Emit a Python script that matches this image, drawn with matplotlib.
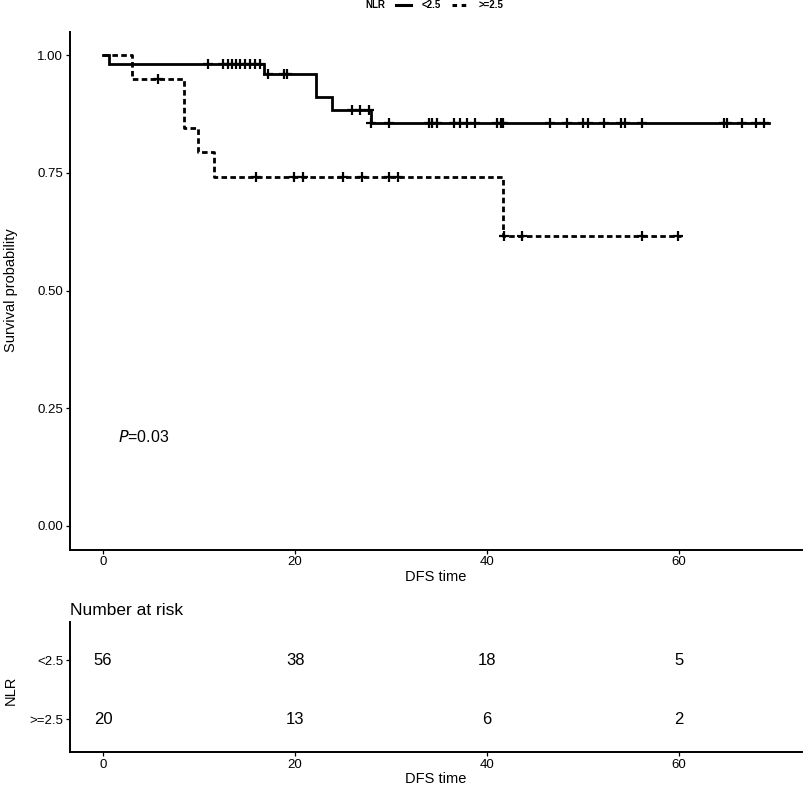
import numpy as np
import matplotlib
matplotlib.use("Agg")
import matplotlib.pyplot as plt
from matplotlib.lines import Line2D

plt.rcParams['font.family'] = ['Liberation Sans', 'DejaVu Sans']

# ---------------- data ----------------
groups = ["<2.5", ">=2.5"]

low_times = [0, 0.6, 16.8, 22.2, 23.8, 27.9]
low_surv = [1.0, 0.982, 0.961, 0.911, 0.884, 0.857]
low_end = 69.4
low_censor = [10.9, 12.5, 13.0, 13.4, 13.8, 14.3, 14.8, 15.3, 15.8, 16.3,
              17.2, 18.8, 19.2, 25.9, 26.8, 27.7, 27.95, 29.8, 33.9, 34.3,
              34.8, 36.5, 37.2, 37.9, 38.7, 41.0, 41.4, 41.7, 46.6, 48.3,
              50.0, 50.5, 52.2, 53.9, 54.4, 56.1, 64.7, 65.0, 66.5, 68.0, 68.8]

high_times = [0, 3.0, 8.4, 9.9, 11.6, 41.7]
high_surv = [1.0, 0.95, 0.846, 0.794, 0.742, 0.617]
high_end = 60.2
high_censor = [5.7, 15.9, 19.9, 20.8, 25.0, 27.0, 29.8, 30.7, 41.8, 43.6,
               56.1, 59.9]

risk_times = [0, 20, 40, 60]
risk_low = [56, 38, 18, 5]
risk_high = [20, 13, 6, 2]

p_text = "0.03"

# ---------------- figure ----------------
W, H = 808, 792
fig = plt.figure(figsize=(W / 100, H / 100), dpi=100)

def px_axes(l, r, t, b):
    return fig.add_axes([l / W, 1 - b / H, (r - l) / W, (b - t) / H])

def fx(x):
    return x / W

def fy(y):
    return 1 - y / H

ax = px_axes(70, 802, 31.7, 549.5)
axr = px_axes(70, 802, 621.7, 751.7)

XLIM = (-3.45, 72.8)
lw = 2.0
dash = (0, (2.0, 1.2))

def step_data(times, surv, end):
    xs = list(times) + [end]
    ys = list(surv) + [surv[-1]]
    return xs, ys

def surv_at(times, surv, t):
    idx = np.searchsorted(np.asarray(times), t, side="right") - 1
    return np.asarray(surv)[idx]

for times, surv, end, cens, ls in [
    (low_times, low_surv, low_end, low_censor, "-"),
    (high_times, high_surv, high_end, high_censor, dash),
]:
    xs, ys = step_data(times, surv, end)
    ax.step(xs, ys, where="post", color="black", lw=lw, linestyle=ls,
            solid_joinstyle="miter", dash_capstyle="butt")
    cy = surv_at(times, surv, np.asarray(cens))
    ax.plot(cens, cy, linestyle="none", marker="+", ms=7, mew=1.6,
            color="black")

ax.set_xlim(*XLIM)
ax.set_ylim(-0.05, 1.05)
ax.set_xticks([0, 20, 40, 60])
ax.set_yticks([0, 0.25, 0.5, 0.75, 1.0])
ax.set_yticklabels(["0.00", "0.25", "0.50", "0.75", "1.00"])
ax.set_xlabel("DFS time", fontsize=10.5, labelpad=1)

ax.text(1.5, 0.19, r"$\it{P}$" + "=" + p_text, fontsize=11.5, va="center",
        ha="left")

for a in (ax, axr):
    for s in ("top", "right"):
        a.spines[s].set_visible(False)
    for s in ("left", "bottom"):
        a.spines[s].set_linewidth(1.4)
    a.tick_params(direction="out", length=3, width=0.9, labelsize=9.5,
                  colors="black", pad=2)

fig.text(fx(11), fy(290), "Survival probability", rotation=90,
         ha="center", va="center", fontsize=10.5)
fig.text(fx(11), fy(690), "NLR", rotation=90, ha="center", va="center",
         fontsize=10.5)

# legend at top (manual)
ly = fy(5)
fig.text(fx(365), ly, "NLR", ha="left", va="center", fontsize=7,
         fontweight="bold")
fig.add_artist(Line2D([fx(396), fx(411)], [ly, ly], color="black", lw=2.2,
                      linestyle="-"))
fig.text(fx(422), ly, groups[0], ha="left", va="center", fontsize=7,
         fontweight="bold")
fig.add_artist(Line2D([fx(452), fx(468)], [ly, ly], color="black", lw=2.2,
                      linestyle=(0, (1.5, 1.5))))
fig.text(fx(479), ly, groups[1], ha="left", va="center", fontsize=7,
         fontweight="bold")

# ---------------- risk table ----------------
rows = [risk_low, risk_high]
ypos = [2, 1]
for yv, vals in zip(ypos, rows):
    for t, v in zip(risk_times, vals):
        axr.text(t, yv, str(v), ha="center", va="center", fontsize=12)
axr.set_xlim(*XLIM)
axr.set_ylim(0.454, 2.646)
axr.set_xticks([0, 20, 40, 60])
axr.set_yticks(ypos)
axr.set_yticklabels(groups)
axr.set_xlabel("DFS time", fontsize=10.5, labelpad=1)
axr.set_title("Number at risk", loc="left", fontsize=12.5, pad=5, x=0.0)

fig.savefig("out.png", dpi=100)
